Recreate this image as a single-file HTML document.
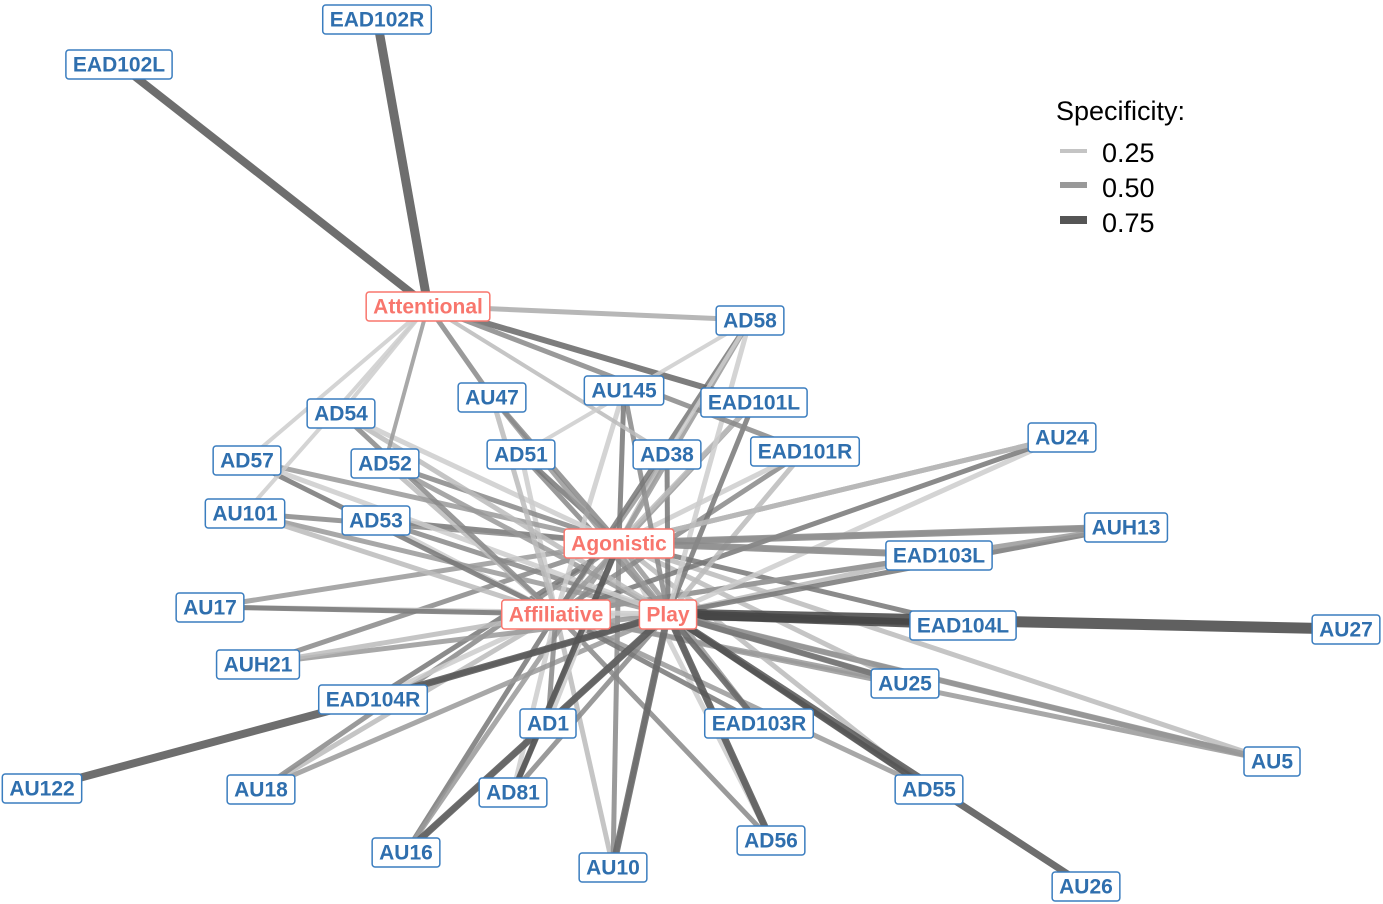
<!DOCTYPE html>
<html><head><meta charset="utf-8"><style>
html,body{margin:0;padding:0;background:#fff;}
svg{display:block;font-family:"Liberation Sans",Arial,sans-serif;}
.n text{font-size:21px;font-weight:bold;fill:#2f6fae;}
.n rect{fill:#fff;stroke:#3a7dbf;stroke-width:1.5;}
.h text{font-size:21px;font-weight:bold;fill:#f8766d;}
.h rect{fill:#fff;stroke:#f8766d;stroke-width:1.5;}
</style></head><body>
<svg id="s" width="1383" height="904" viewBox="0 0 1383 904">
<g id="edges"></g>
<g font-size="27" fill="#000">
<text x="1056" y="120">Specificity:</text>
<line x1="1060" y1="151" x2="1087" y2="151" stroke="#c4c4c4" stroke-width="4"/>
<text x="1102" y="162">0.25</text>
<line x1="1060" y1="185" x2="1087" y2="185" stroke="#999" stroke-width="6"/>
<text x="1102" y="197">0.50</text>
<line x1="1060" y1="220" x2="1087" y2="220" stroke="#555" stroke-width="8"/>
<text x="1102" y="232">0.75</text>
</g>
<g id="nodes">
<g class="n" data-x="377" data-y="19"><rect/><text>EAD102R</text></g>
<g class="n" data-x="119" data-y="64"><rect/><text>EAD102L</text></g>
<g class="n" data-x="750" data-y="320"><rect/><text>AD58</text></g>
<g class="n" data-x="492" data-y="397"><rect/><text>AU47</text></g>
<g class="n" data-x="624" data-y="390"><rect/><text>AU145</text></g>
<g class="n" data-x="754" data-y="402"><rect/><text>EAD101L</text></g>
<g class="n" data-x="341" data-y="413"><rect/><text>AD54</text></g>
<g class="n" data-x="247" data-y="460"><rect/><text>AD57</text></g>
<g class="n" data-x="385" data-y="463"><rect/><text>AD52</text></g>
<g class="n" data-x="521" data-y="454"><rect/><text>AD51</text></g>
<g class="n" data-x="667" data-y="454"><rect/><text>AD38</text></g>
<g class="n" data-x="805" data-y="451"><rect/><text>EAD101R</text></g>
<g class="n" data-x="1062" data-y="437"><rect/><text>AU24</text></g>
<g class="n" data-x="245" data-y="513"><rect/><text>AU101</text></g>
<g class="n" data-x="376" data-y="520"><rect/><text>AD53</text></g>
<g class="n" data-x="1126" data-y="527"><rect/><text>AUH13</text></g>
<g class="n" data-x="939" data-y="555"><rect/><text>EAD103L</text></g>
<g class="n" data-x="210" data-y="607"><rect/><text>AU17</text></g>
<g class="n" data-x="963" data-y="625"><rect/><text>EAD104L</text></g>
<g class="n" data-x="1346" data-y="629"><rect/><text>AU27</text></g>
<g class="n" data-x="258" data-y="664"><rect/><text>AUH21</text></g>
<g class="n" data-x="373" data-y="699"><rect/><text>EAD104R</text></g>
<g class="n" data-x="905" data-y="683"><rect/><text>AU25</text></g>
<g class="n" data-x="548" data-y="723"><rect/><text>AD1</text></g>
<g class="n" data-x="759" data-y="723"><rect/><text>EAD103R</text></g>
<g class="n" data-x="1272" data-y="761"><rect/><text>AU5</text></g>
<g class="n" data-x="42" data-y="788"><rect/><text>AU122</text></g>
<g class="n" data-x="261" data-y="789"><rect/><text>AU18</text></g>
<g class="n" data-x="513" data-y="792"><rect/><text>AD81</text></g>
<g class="n" data-x="929" data-y="789"><rect/><text>AD55</text></g>
<g class="n" data-x="771" data-y="840"><rect/><text>AD56</text></g>
<g class="n" data-x="406" data-y="852"><rect/><text>AU16</text></g>
<g class="n" data-x="613" data-y="867"><rect/><text>AU10</text></g>
<g class="n" data-x="1086" data-y="886"><rect/><text>AU26</text></g>
<g class="h" data-x="428" data-y="306"><rect/><text>Attentional</text></g>
<g class="h" data-x="619" data-y="543"><rect/><text>Agonistic</text></g>
<g class="h" data-x="556" data-y="614"><rect/><text>Affiliative</text></g>
<g class="h" data-x="668" data-y="614"><rect/><text>Play</text></g>
</g>
</svg>
<script>
var P={};
document.querySelectorAll('#nodes g').forEach(function(g){
 var x=+g.getAttribute('data-x'),y=+g.getAttribute('data-y');
 var t=g.querySelector('text'),r=g.querySelector('rect');
 P[t.textContent]=[x,y];
 t.setAttribute('text-anchor','middle');t.setAttribute('x',x);t.setAttribute('y',y+7.5);
 var w=t.getComputedTextLength()+14;
 r.setAttribute('x',x-w/2);r.setAttribute('y',y-14);r.setAttribute('width',w);r.setAttribute('height',29);r.setAttribute('rx',3);
});
var E=[
['EAD102R','Attentional',9,'#555'],['EAD102L','Attentional',8,'#555'],
['Attentional','AD58',5,'#aaa'],['Attentional','EAD101L',6,'#666'],['Attentional','EAD101R',5,'#888'],
['Attentional','AD54',4,'#ccc'],['Attentional','AD52',4,'#999'],['Attentional','AD57',4,'#ccc'],['Attentional','AU47',5,'#888'],['Attentional','AD38',4,'#bbb'],['Attentional','AU101',4,'#ccc'],
['Play','AU27',11,'#444'],['Play','EAD104L',9,'#444'],['Play','AU5',6,'#999'],['Play','AU26',7,'#555'],['Play','AD56',7,'#555'],['Play','AU16',7,'#555'],['Play','AU10',7,'#666'],['Play','EAD104R',7,'#555'],['EAD104R','AU122',8,'#555'],
['Play','AU25',6,'#777'],['Play','EAD103R',6,'#666'],['Play','AD55',6,'#555'],
['Agonistic','AUH13',7,'#888'],['Agonistic','EAD103L',7,'#888'],['Agonistic','AU24',5,'#bbb'],['Agonistic','AD81',6,'#555'],
['AD58','AD38',4,'#ccc'],['AD58','AD51',4,'#ccc']];
var leaves=['AD58','AU47','AU145','EAD101L','AD54','AD57','AD52','AD51','AD38','EAD101R','AU24','AU101','AD53','AUH13','EAD103L','AU17','AUH21','EAD104R','AU25','AD1','EAD103R','AU18','AD81','AD55','AD56','AU16','AU10','EAD104L','AU5'];
var hubs=['Agonistic','Affiliative','Play'],grays=['#bbb','#999','#777','#ccc','#888'];
var k=0;
leaves.forEach(function(l){hubs.forEach(function(h){k++;E.unshift([l,h,5,grays[k%5]]);});});
var ge=document.getElementById('edges'),s='';
E.forEach(function(e){var a=P[e[0]],b=P[e[1]];s+='<line x1="'+a[0]+'" y1="'+a[1]+'" x2="'+b[0]+'" y2="'+b[1]+'" stroke="'+e[3]+'" stroke-width="'+e[2]+'" stroke-opacity="0.85"/>';});
ge.innerHTML=s;
</script>
</body></html>
